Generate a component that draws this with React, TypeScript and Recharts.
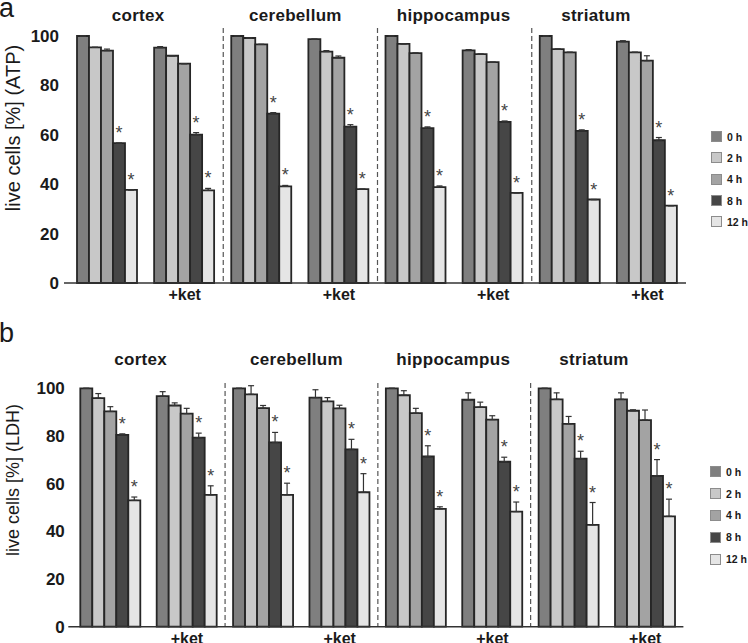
import React from 'react';
import { BarChart, Bar, XAxis, YAxis, ErrorBar, LabelList, ReferenceArea, Legend } from 'recharts';

// ---------- data ----------
const groups = [
  'cortex', 'cortex +ket',
  'cerebellum', 'cerebellum +ket',
  'hippocampus', 'hippocampus +ket',
  'striatum', 'striatum +ket',
];
const regions = ['cortex', 'cerebellum', 'hippocampus', 'striatum'];
const timepoints = ['0 h', '2 h', '4 h', '8 h', '12 h'];
const yTicks = [0, 20, 40, 60, 80, 100];

// ATP assay (panel a), one array per time point, one value per group
const atp0h = [100, 95.3, 100, 98.7, 100, 94.2, 100, 97.7];
const atp2h = [95.4, 92.0, 99.2, 93.7, 96.8, 92.7, 94.7, 93.4];
const atp4h = [94.1, 88.8, 96.6, 91.2, 93.1, 89.4, 93.4, 90.0];
const atp8h = [56.6, 60.1, 68.6, 63.3, 62.7, 65.2, 61.6, 57.8];
const atp12h = [37.7, 37.5, 39.1, 38.0, 38.8, 36.5, 33.8, 31.3];
const atpErr0h = [0, 0.4, 0, 0, 0, 0.3, 0, 0.4];
const atpErr2h = [0, 0, 0, 0.4, 0, 0, 0, 0];
const atpErr4h = [0.6, 0, 0, 0.7, 0, 0, 0, 2.0];
const atpErr8h = [0, 0.8, 0.4, 0.8, 0.5, 0.4, 0.4, 1.1];
const atpErr12h = [0, 0.8, 0.4, 0, 0.5, 0, 0, 0];

// LDH assay (panel b)
const ldh0h = [100, 96.7, 100, 96.1, 100, 95.2, 100, 95.4];
const ldh2h = [95.9, 92.8, 97.5, 94.5, 97.1, 92.1, 95.4, 90.6];
const ldh4h = [90.3, 89.4, 91.7, 91.6, 89.6, 86.9, 85.1, 86.7];
const ldh8h = [80.5, 79.3, 77.3, 74.4, 71.4, 69.2, 70.5, 63.3];
const ldh12h = [53.0, 55.3, 55.3, 56.4, 49.4, 48.3, 42.7, 46.3];
const ldhErr0h = [0, 1.9, 0, 3.3, 0, 2.9, 0, 2.7];
const ldhErr2h = [1.9, 1.1, 3.6, 1.6, 1.9, 2.1, 2.7, 0.4];
const ldhErr4h = [2.0, 2.2, 1.1, 1.3, 2.0, 1.6, 3.1, 4.2];
const ldhErr8h = [0.4, 1.9, 4.2, 4.2, 4.5, 1.9, 3.1, 6.8];
const ldhErr12h = [1.4, 3.8, 4.9, 7.8, 0.9, 4.0, 9.4, 7.2];

// which time points carry a significance asterisk
const significant = [false, false, false, true, true];

// ---------- styles ----------
const FONT = '"Liberation Sans", Arial, Helvetica, sans-serif';
const TEXT = '#1a1a1a';
const barColors = ['#7f7f7f', '#c8c8c8', '#a3a3a3', '#464646', '#e5e5e5'];
const barStroke = '#262626';
const regionLabelDx = [-8, -5, -1, -13];

function buildRows(series: number[][], errors: number[][]) {
  return groups.map((g, i) => {
    const row: any = { group: g };
    series.forEach((s, k) => {
      row['v' + k] = s[i];
      row['e' + k] = [0, errors[k][i]];
    });
    return row;
  });
}

const atpErrors = [atpErr0h, atpErr2h, atpErr4h, atpErr8h, atpErr12h];
const ldhErrors = [ldhErr0h, ldhErr2h, ldhErr4h, ldhErr8h, ldhErr12h];
const atpRows = buildRows([atp0h, atp2h, atp4h, atp8h, atp12h], atpErrors);
const ldhRows = buildRows([ldh0h, ldh2h, ldh4h, ldh8h, ldh12h], ldhErrors);

type PanelCfg = {
  letter: string;
  yLabel: string;
  yLabelSize: number;
  top: number;
  height: number;
  marginTop: number;
  marginBottom: number;
  marginRight: number;
  xAxisHeight: number;
  yAxisWidth: number;
  padLeft: number;
  tickGap: number;
  yLabelCy: number;
  letterBaseline: number;
  regionAbove: number;
  dashAbove: number;
  legendTop: number;
  legendLeft: number;
  legendStep: number;
};

const panelA: PanelCfg = {
  letter: 'a', yLabel: 'live cells [%] (ATP)', yLabelSize: 20, top: 0, height: 320,
  marginTop: 36, marginBottom: 7, marginRight: 62, xAxisHeight: 30, yAxisWidth: 64,
  padLeft: 5, tickGap: 5, yLabelCy: 128, letterBaseline: 16.5, regionAbove: 15.5, dashAbove: 8,
  legendTop: 126, legendLeft: 711, legendStep: 21.3,
};
const panelB: PanelCfg = {
  letter: 'b', yLabel: 'live cells [%] (LDH)', yLabelSize: 18, top: 320, height: 323,
  marginTop: 65.7, marginBottom: 0.3, marginRight: 64.6, xAxisHeight: 16, yAxisWidth: 68.3,
  padLeft: 4, tickGap: 3.5, yLabelCy: 160, letterBaseline: 21.5, regionAbove: 20.7, dashAbove: 2.7,
  legendTop: 141, legendLeft: 710, legendStep: 21.8,
};

function LegendBox({ step }: { step: number }) {
  return (
    <div style={{ fontFamily: FONT }}>
      {timepoints.map((t, k) => (
        <div key={t} style={{ height: step, display: 'flex', alignItems: 'center' }}>
          <div style={{ width: 9, height: 9, background: barColors[k], border: '1px solid #8c8c8c', marginRight: 5, flexShrink: 0 }} />
          <span style={{ fontSize: 10.5, fontWeight: 'bold', color: TEXT, whiteSpace: 'nowrap' }}>{t}</span>
        </div>
      ))}
    </div>
  );
}

function Panel({ cfg, rows, errors }: { cfg: PanelCfg; rows: any[]; errors: number[][] }) {
  const asterisk = (k: number) => (props: any) => {
    const { x, y, width, height, value, index } = props;
    if (value == null || !height) return null;
    const perUnit = Number(height) / Number(value);
    const errTop = Number(y) - errors[k][index] * perUnit;
    return (
      <text x={Number(x) + Number(width) / 2} y={errTop - 4} textAnchor="middle"
        fontSize={18} fill="#444" fontFamily={FONT}>*</text>
    );
  };

  const yLabelContent = () => (
    <g>
      <text x={-1} y={cfg.letterBaseline} fontSize={27} fill={TEXT} fontFamily={FONT}>
        {cfg.letter}
      </text>
      <text transform={`translate(13, ${cfg.yLabelCy}) rotate(-90)`} textAnchor="middle"
        dominantBaseline="central" fontSize={cfg.yLabelSize} fill={TEXT} fontFamily={FONT}>
        {cfg.yLabel}
      </text>
    </g>
  );

  const regionShape = (i: number, name: string) => (p: any) => {
    const x = Number(p.x), y = Number(p.y), w = Number(p.width), h = Number(p.height);
    return (
      <g>
        <text x={x + w / 2 + regionLabelDx[i]} y={y - cfg.regionAbove} textAnchor="middle"
          fontSize={17} fontWeight="bold" fill={TEXT} fontFamily={FONT} letterSpacing={0.3}>
          {name}
        </text>
        {i > 0 && (
          <line x1={x} x2={x} y1={y - cfg.dashAbove} y2={y + h} stroke="#555"
            strokeWidth={1.2} strokeDasharray="5 3" />
        )}
      </g>
    );
  };

  const xTick = (props: any) => {
    const { x, y, payload } = props;
    const v = String(payload.value);
    if (!v.includes('+ket')) return <g />;
    return (
      <text x={x} y={Number(y) + 17} textAnchor="middle" fontSize={16} fontWeight="bold"
        fill={TEXT} fontFamily={FONT}>+ket</text>
    );
  };

  return (
    <div style={{ position: 'absolute', left: 0, top: cfg.top, width: 748, height: cfg.height }}>
      <BarChart width={748} height={cfg.height} data={rows}
        margin={{ top: cfg.marginTop, right: cfg.marginRight, bottom: cfg.marginBottom, left: 0 }}
        barCategoryGap={8} barGap={0}>
        <XAxis dataKey="group" interval={0} tickLine={false} tickSize={0} tickMargin={0}
          height={cfg.xAxisHeight} padding={{ left: cfg.padLeft, right: 0 }}
          axisLine={{ stroke: '#333', strokeWidth: 1.5 }} tick={xTick} />
        <YAxis domain={[0, 100]} ticks={yTicks} width={cfg.yAxisWidth} axisLine={false}
          tickLine={false} tickSize={0} tickMargin={cfg.tickGap}
          tick={{ fill: TEXT, fontSize: 17, fontWeight: 'bold', fontFamily: FONT }}
          label={{ value: cfg.yLabel, content: yLabelContent }} />
        {regions.map((r, i) => (
          <ReferenceArea key={r} x1={r} x2={r + ' +ket'} fill="none" stroke="none"
            ifOverflow="visible" shape={regionShape(i, r)} />
        ))}
        {timepoints.map((t, k) => (
          <Bar key={t} dataKey={'v' + k} name={t} fill={barColors[k]} stroke={barStroke}
            strokeWidth={1.8} isAnimationActive={false}>
            <ErrorBar dataKey={'e' + k} direction="y" width={3} stroke="#333" strokeWidth={1.2} />
            {significant[k] && <LabelList dataKey={'v' + k} content={asterisk(k)} />}
          </Bar>
        ))}
        <Legend layout="vertical" align="center" verticalAlign="middle"
          wrapperStyle={{ position: 'absolute', left: cfg.legendLeft, top: cfg.legendTop, width: 37 }}
          content={() => <LegendBox step={cfg.legendStep} />} />
      </BarChart>
    </div>
  );
}

export default function App() {
  return (
    <div style={{ position: 'absolute', left: 0, top: 0, width: 748, height: 643, background: '#fff', overflow: 'hidden' }}>
      <Panel cfg={panelA} rows={atpRows} errors={atpErrors} />
      <Panel cfg={panelB} rows={ldhRows} errors={ldhErrors} />
    </div>
  );
}
